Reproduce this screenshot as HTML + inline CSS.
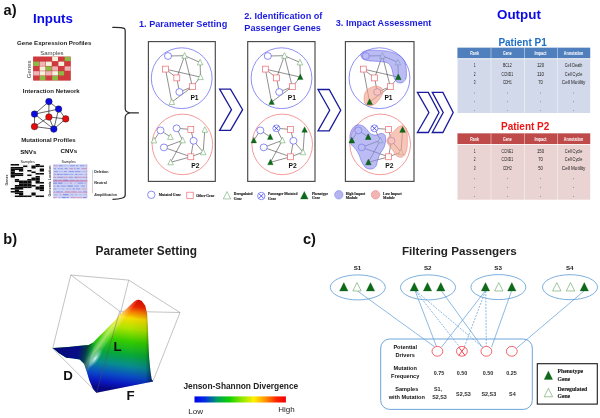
<!DOCTYPE html>
<html lang="en"><head><meta charset="utf-8"><title>Figure</title>
<style>html,body{margin:0;padding:0;background:#fff;overflow:hidden}svg{display:block}</style></head>
<body>
<svg width="600" height="418" viewBox="0 0 600 418">
<rect width="600" height="418" fill="#fff"/>
<g id="fig" style="filter:blur(0.38px)">
<text x="3.6" y="14.7" font-family='"Liberation Sans", sans-serif' font-size="14.6" font-weight="bold" fill="#111" text-anchor="start" >a)</text>
<text x="33" y="23" font-family='"Liberation Sans", sans-serif' font-size="13.3" font-weight="bold" fill="#0a0ae6" text-anchor="start" >Inputs</text>
<text x="17" y="45" font-family='"Liberation Sans", sans-serif' font-size="6.15" font-weight="bold" fill="#222" text-anchor="start" >Gene Expression Profiles</text>
<text x="40.2" y="55.3" font-family='"Liberation Sans", sans-serif' font-size="6.0" font-weight="normal" fill="#444" text-anchor="start" >Samples</text>
<text transform="translate(31.3,78.2) rotate(-90)" font-family='"Liberation Sans", sans-serif' font-size="6" fill="#444">Genes</text>
<rect x="33.2" y="56.6" width="37.5" height="23.900000000000002" fill="#c7383b"/>
<rect x="33.42" y="56.82" width="5.81" height="4.34" fill="#d03a3e"/>
<rect x="39.67" y="56.82" width="5.81" height="4.34" fill="#d03a3e"/>
<rect x="45.92" y="56.82" width="5.81" height="4.34" fill="#d03a3e"/>
<rect x="52.17" y="56.82" width="5.81" height="4.34" fill="#f3f3dd"/>
<rect x="58.42" y="56.82" width="5.81" height="4.34" fill="#d03a3e"/>
<rect x="64.67" y="56.82" width="5.81" height="4.34" fill="#8cbb45"/>
<rect x="33.42" y="61.60" width="5.81" height="4.34" fill="#8cbb45"/>
<rect x="39.67" y="61.60" width="5.81" height="4.34" fill="#efb4b6"/>
<rect x="45.92" y="61.60" width="5.81" height="4.34" fill="#f3f3dd"/>
<rect x="52.17" y="61.60" width="5.81" height="4.34" fill="#d03a3e"/>
<rect x="58.42" y="61.60" width="5.81" height="4.34" fill="#f3f3dd"/>
<rect x="64.67" y="61.60" width="5.81" height="4.34" fill="#d03a3e"/>
<rect x="33.42" y="66.38" width="5.81" height="4.34" fill="#d03a3e"/>
<rect x="39.67" y="66.38" width="5.81" height="4.34" fill="#f3f3dd"/>
<rect x="45.92" y="66.38" width="5.81" height="4.34" fill="#8cbb45"/>
<rect x="52.17" y="66.38" width="5.81" height="4.34" fill="#efb4b6"/>
<rect x="58.42" y="66.38" width="5.81" height="4.34" fill="#d03a3e"/>
<rect x="64.67" y="66.38" width="5.81" height="4.34" fill="#efb4b6"/>
<rect x="33.42" y="71.16" width="5.81" height="4.34" fill="#efb4b6"/>
<rect x="39.67" y="71.16" width="5.81" height="4.34" fill="#f3f3dd"/>
<rect x="45.92" y="71.16" width="5.81" height="4.34" fill="#efb4b6"/>
<rect x="52.17" y="71.16" width="5.81" height="4.34" fill="#f3f3dd"/>
<rect x="58.42" y="71.16" width="5.81" height="4.34" fill="#8cbb45"/>
<rect x="64.67" y="71.16" width="5.81" height="4.34" fill="#d03a3e"/>
<rect x="33.42" y="75.94" width="5.81" height="4.34" fill="#d03a3e"/>
<rect x="39.67" y="75.94" width="5.81" height="4.34" fill="#8cbb45"/>
<rect x="45.92" y="75.94" width="5.81" height="4.34" fill="#d03a3e"/>
<rect x="52.17" y="75.94" width="5.81" height="4.34" fill="#8cbb45"/>
<rect x="58.42" y="75.94" width="5.81" height="4.34" fill="#d03a3e"/>
<rect x="64.67" y="75.94" width="5.81" height="4.34" fill="#d03a3e"/>
<text x="22.8" y="93.2" font-family='"Liberation Sans", sans-serif' font-size="6.1" font-weight="bold" fill="#222" text-anchor="start" >Interaction Network</text>
<line x1="48.9" y1="101.6" x2="58.6" y2="109.1" stroke="#222" stroke-width="0.7"/>
<line x1="48.9" y1="101.6" x2="34.5" y2="114.1" stroke="#222" stroke-width="0.7"/>
<line x1="48.9" y1="101.6" x2="48.9" y2="117" stroke="#222" stroke-width="0.7"/>
<line x1="58.6" y1="109.1" x2="34.5" y2="114.1" stroke="#222" stroke-width="0.7"/>
<line x1="58.6" y1="109.1" x2="65.7" y2="118.9" stroke="#222" stroke-width="0.7"/>
<line x1="58.6" y1="109.1" x2="53.8" y2="129.1" stroke="#222" stroke-width="0.7"/>
<line x1="34.5" y1="114.1" x2="34.5" y2="126.6" stroke="#222" stroke-width="0.7"/>
<line x1="34.5" y1="114.1" x2="53.8" y2="129.1" stroke="#222" stroke-width="0.7"/>
<line x1="48.9" y1="117" x2="34.5" y2="126.6" stroke="#222" stroke-width="0.7"/>
<line x1="48.9" y1="117" x2="65.7" y2="118.9" stroke="#222" stroke-width="0.7"/>
<line x1="48.9" y1="117" x2="53.8" y2="129.1" stroke="#222" stroke-width="0.7"/>
<line x1="65.7" y1="118.9" x2="53.8" y2="129.1" stroke="#222" stroke-width="0.7"/>
<line x1="34.5" y1="126.6" x2="53.8" y2="129.1" stroke="#222" stroke-width="0.7"/>
<circle cx="48.9" cy="101.6" r="3.3" fill="#0b0be0" stroke="#222" stroke-width="0.4"/>
<circle cx="58.6" cy="109.1" r="3.3" fill="#0b0be0" stroke="#222" stroke-width="0.4"/>
<circle cx="34.5" cy="114.1" r="3.3" fill="#0b0be0" stroke="#222" stroke-width="0.4"/>
<circle cx="48.9" cy="117" r="3.3" fill="#e40c0c" stroke="#222" stroke-width="0.4"/>
<circle cx="65.7" cy="118.9" r="3.3" fill="#e40c0c" stroke="#222" stroke-width="0.4"/>
<circle cx="34.5" cy="126.6" r="3.3" fill="#e40c0c" stroke="#222" stroke-width="0.4"/>
<circle cx="53.8" cy="129.1" r="3.3" fill="#0b0be0" stroke="#222" stroke-width="0.4"/>
<text x="21.2" y="141.6" font-family='"Liberation Sans", sans-serif' font-size="6.1" font-weight="bold" fill="#222" text-anchor="start" >Mutational Profiles</text>
<text x="20.2" y="153.8" font-family='"Liberation Sans", sans-serif' font-size="6.2" font-weight="bold" fill="#111" text-anchor="start" >SNVs</text>
<text x="60.6" y="152.9" font-family='"Liberation Sans", sans-serif' font-size="6.2" font-weight="bold" fill="#111" text-anchor="start" >CNVs</text>
<text x="27.6" y="162.8" font-family='"Liberation Sans", sans-serif' font-size="3.7" font-weight="normal" fill="#1a1a1a" text-anchor="middle" >Samples</text>
<text x="68.7" y="163.0" font-family='"Liberation Sans", sans-serif' font-size="3.7" font-weight="normal" fill="#1a1a1a" text-anchor="middle" >Samples</text>
<text transform="translate(8.2,185.5) rotate(-90)" font-family='"Liberation Sans", sans-serif' font-size="3.6" font-weight="bold" fill="#333">Genes</text>
<text transform="translate(51.0,196.4) rotate(-90)" font-family='"Liberation Sans", sans-serif' font-size="3.55" font-weight="bold" fill="#333">Genomic Location</text>
<rect x="10.7" y="164.0" width="33.2" height="33.0" fill="#f6f6f6"/>
<rect x="10.70" y="164.00" width="4.20" height="1.55" fill="#0a0a0a"/>
<rect x="14.85" y="164.00" width="4.20" height="1.55" fill="#0a0a0a"/>
<rect x="35.60" y="164.00" width="4.20" height="1.55" fill="#0a0a0a"/>
<rect x="23.15" y="165.50" width="4.20" height="1.55" fill="#0a0a0a"/>
<rect x="31.45" y="165.50" width="4.20" height="1.55" fill="#0a0a0a"/>
<rect x="35.60" y="165.50" width="4.20" height="1.55" fill="#0a0a0a"/>
<rect x="39.75" y="165.50" width="4.20" height="1.55" fill="#0a0a0a"/>
<rect x="10.70" y="167.00" width="4.20" height="1.55" fill="#0a0a0a"/>
<rect x="14.85" y="167.00" width="4.20" height="1.55" fill="#0a0a0a"/>
<rect x="19.00" y="167.00" width="4.20" height="1.55" fill="#0a0a0a"/>
<rect x="31.45" y="167.00" width="4.20" height="1.55" fill="#0a0a0a"/>
<rect x="10.70" y="168.50" width="4.20" height="1.55" fill="#0a0a0a"/>
<rect x="14.85" y="168.50" width="4.20" height="1.55" fill="#0a0a0a"/>
<rect x="19.00" y="168.50" width="4.20" height="1.55" fill="#0a0a0a"/>
<rect x="39.75" y="168.50" width="4.20" height="1.55" fill="#0a0a0a"/>
<rect x="10.70" y="170.00" width="4.20" height="1.55" fill="#0a0a0a"/>
<rect x="19.00" y="170.00" width="4.20" height="1.55" fill="#0a0a0a"/>
<rect x="27.30" y="170.00" width="4.20" height="1.55" fill="#0a0a0a"/>
<rect x="39.75" y="170.00" width="4.20" height="1.55" fill="#0a0a0a"/>
<rect x="10.70" y="171.50" width="4.20" height="1.55" fill="#0a0a0a"/>
<rect x="31.45" y="171.50" width="4.20" height="1.55" fill="#0a0a0a"/>
<rect x="10.70" y="173.00" width="4.20" height="1.55" fill="#0a0a0a"/>
<rect x="14.85" y="173.00" width="4.20" height="1.55" fill="#0a0a0a"/>
<rect x="19.00" y="173.00" width="4.20" height="1.55" fill="#0a0a0a"/>
<rect x="35.60" y="173.00" width="4.20" height="1.55" fill="#0a0a0a"/>
<rect x="39.75" y="173.00" width="4.20" height="1.55" fill="#0a0a0a"/>
<rect x="10.70" y="174.50" width="4.20" height="1.55" fill="#0a0a0a"/>
<rect x="14.85" y="174.50" width="4.20" height="1.55" fill="#0a0a0a"/>
<rect x="19.00" y="174.50" width="4.20" height="1.55" fill="#0a0a0a"/>
<rect x="27.30" y="174.50" width="4.20" height="1.55" fill="#0a0a0a"/>
<rect x="10.70" y="176.00" width="4.20" height="1.55" fill="#0a0a0a"/>
<rect x="35.60" y="176.00" width="4.20" height="1.55" fill="#0a0a0a"/>
<rect x="31.45" y="177.50" width="4.20" height="1.55" fill="#0a0a0a"/>
<rect x="35.60" y="177.50" width="4.20" height="1.55" fill="#0a0a0a"/>
<rect x="14.85" y="179.00" width="4.20" height="1.55" fill="#0a0a0a"/>
<rect x="27.30" y="179.00" width="4.20" height="1.55" fill="#0a0a0a"/>
<rect x="31.45" y="179.00" width="4.20" height="1.55" fill="#0a0a0a"/>
<rect x="35.60" y="179.00" width="4.20" height="1.55" fill="#0a0a0a"/>
<rect x="14.85" y="180.50" width="4.20" height="1.55" fill="#0a0a0a"/>
<rect x="19.00" y="180.50" width="4.20" height="1.55" fill="#0a0a0a"/>
<rect x="23.15" y="180.50" width="4.20" height="1.55" fill="#0a0a0a"/>
<rect x="27.30" y="180.50" width="4.20" height="1.55" fill="#0a0a0a"/>
<rect x="35.60" y="180.50" width="4.20" height="1.55" fill="#0a0a0a"/>
<rect x="19.00" y="182.00" width="4.20" height="1.55" fill="#0a0a0a"/>
<rect x="23.15" y="182.00" width="4.20" height="1.55" fill="#0a0a0a"/>
<rect x="27.30" y="182.00" width="4.20" height="1.55" fill="#0a0a0a"/>
<rect x="35.60" y="182.00" width="4.20" height="1.55" fill="#0a0a0a"/>
<rect x="39.75" y="182.00" width="4.20" height="1.55" fill="#0a0a0a"/>
<rect x="19.00" y="183.50" width="4.20" height="1.55" fill="#0a0a0a"/>
<rect x="23.15" y="183.50" width="4.20" height="1.55" fill="#0a0a0a"/>
<rect x="27.30" y="183.50" width="4.20" height="1.55" fill="#0a0a0a"/>
<rect x="14.85" y="185.00" width="4.20" height="1.55" fill="#0a0a0a"/>
<rect x="19.00" y="185.00" width="4.20" height="1.55" fill="#0a0a0a"/>
<rect x="23.15" y="185.00" width="4.20" height="1.55" fill="#0a0a0a"/>
<rect x="27.30" y="185.00" width="4.20" height="1.55" fill="#0a0a0a"/>
<rect x="31.45" y="185.00" width="4.20" height="1.55" fill="#0a0a0a"/>
<rect x="39.75" y="185.00" width="4.20" height="1.55" fill="#0a0a0a"/>
<rect x="14.85" y="186.50" width="4.20" height="1.55" fill="#0a0a0a"/>
<rect x="19.00" y="186.50" width="4.20" height="1.55" fill="#0a0a0a"/>
<rect x="23.15" y="186.50" width="4.20" height="1.55" fill="#0a0a0a"/>
<rect x="27.30" y="186.50" width="4.20" height="1.55" fill="#0a0a0a"/>
<rect x="35.60" y="186.50" width="4.20" height="1.55" fill="#0a0a0a"/>
<rect x="39.75" y="186.50" width="4.20" height="1.55" fill="#0a0a0a"/>
<rect x="10.70" y="188.00" width="4.20" height="1.55" fill="#0a0a0a"/>
<rect x="14.85" y="188.00" width="4.20" height="1.55" fill="#0a0a0a"/>
<rect x="19.00" y="188.00" width="4.20" height="1.55" fill="#0a0a0a"/>
<rect x="35.60" y="188.00" width="4.20" height="1.55" fill="#0a0a0a"/>
<rect x="39.75" y="188.00" width="4.20" height="1.55" fill="#0a0a0a"/>
<rect x="14.85" y="189.50" width="4.20" height="1.55" fill="#0a0a0a"/>
<rect x="39.75" y="189.50" width="4.20" height="1.55" fill="#0a0a0a"/>
<rect x="10.70" y="191.00" width="4.20" height="1.55" fill="#0a0a0a"/>
<rect x="14.85" y="191.00" width="4.20" height="1.55" fill="#0a0a0a"/>
<rect x="19.00" y="191.00" width="4.20" height="1.55" fill="#0a0a0a"/>
<rect x="14.85" y="192.50" width="4.20" height="1.55" fill="#0a0a0a"/>
<rect x="19.00" y="192.50" width="4.20" height="1.55" fill="#0a0a0a"/>
<rect x="31.45" y="192.50" width="4.20" height="1.55" fill="#0a0a0a"/>
<rect x="19.00" y="194.00" width="4.20" height="1.55" fill="#0a0a0a"/>
<rect x="31.45" y="194.00" width="4.20" height="1.55" fill="#0a0a0a"/>
<rect x="14.85" y="195.50" width="4.20" height="1.55" fill="#0a0a0a"/>
<rect x="19.00" y="195.50" width="4.20" height="1.55" fill="#0a0a0a"/>
<rect x="23.15" y="195.50" width="4.20" height="1.55" fill="#0a0a0a"/>
<rect x="27.30" y="195.50" width="4.20" height="1.55" fill="#0a0a0a"/>
<rect x="35.60" y="195.50" width="4.20" height="1.55" fill="#0a0a0a"/>
<rect x="39.75" y="195.50" width="4.20" height="1.55" fill="#0a0a0a"/>
<rect x="53.0" y="164.2" width="34.4" height="34.0" fill="#cfd4f4"/>
<rect x="53.7" y="165.2" width="4.0" height="1.1" fill="#d29cc0"/>
<rect x="58.8" y="165.2" width="3.8" height="1.1" fill="#8a98ea"/>
<rect x="63.3" y="165.2" width="5.1" height="1.1" fill="#b3bcf1"/>
<rect x="69.9" y="165.2" width="5.1" height="1.1" fill="#8f9dea"/>
<rect x="76.0" y="165.2" width="2.1" height="1.1" fill="#8a98ea"/>
<rect x="79.9" y="165.2" width="4.6" height="1.1" fill="#8f9dea"/>
<rect x="85.8" y="165.2" width="1.3" height="1.1" fill="#b3bcf1"/>
<rect x="53.9" y="168.1" width="2.2" height="1.1" fill="#8f9dea"/>
<rect x="57.9" y="168.1" width="1.8" height="1.1" fill="#8f9dea"/>
<rect x="60.4" y="168.1" width="2.6" height="1.1" fill="#8f9dea"/>
<rect x="64.6" y="168.1" width="3.0" height="1.1" fill="#8a98ea"/>
<rect x="69.3" y="168.1" width="3.8" height="1.1" fill="#c694c8"/>
<rect x="74.0" y="168.1" width="1.5" height="1.1" fill="#8f9dea"/>
<rect x="76.7" y="168.1" width="2.8" height="1.1" fill="#8a98ea"/>
<rect x="81.4" y="168.1" width="5.3" height="1.1" fill="#c694c8"/>
<rect x="54.1" y="171.0" width="3.8" height="1.1" fill="#8f9dea"/>
<rect x="58.5" y="171.0" width="4.9" height="1.1" fill="#b3bcf1"/>
<rect x="64.0" y="171.0" width="2.8" height="1.1" fill="#8f9dea"/>
<rect x="68.7" y="171.0" width="5.3" height="1.1" fill="#8f9dea"/>
<rect x="74.8" y="171.0" width="5.7" height="1.1" fill="#8f9dea"/>
<rect x="81.6" y="171.0" width="5.5" height="1.1" fill="#b3bcf1"/>
<rect x="53.8" y="173.9" width="2.4" height="1.1" fill="#c694c8"/>
<rect x="57.1" y="173.9" width="1.9" height="1.1" fill="#7888e4"/>
<rect x="59.4" y="173.9" width="3.3" height="1.1" fill="#8f9dea"/>
<rect x="63.4" y="173.9" width="4.7" height="1.1" fill="#8f9dea"/>
<rect x="68.5" y="173.9" width="5.1" height="1.1" fill="#a3aeee"/>
<rect x="75.1" y="173.9" width="2.3" height="1.1" fill="#8a98ea"/>
<rect x="78.2" y="173.9" width="4.8" height="1.1" fill="#a3aeee"/>
<rect x="84.0" y="173.9" width="3.1" height="1.1" fill="#b3bcf1"/>
<rect x="53.3" y="176.8" width="2.7" height="1.1" fill="#d29cc0"/>
<rect x="57.4" y="176.8" width="6.0" height="1.1" fill="#8f9dea"/>
<rect x="64.1" y="176.8" width="3.3" height="1.1" fill="#d29cc0"/>
<rect x="68.7" y="176.8" width="4.1" height="1.1" fill="#8f9dea"/>
<rect x="74.8" y="176.8" width="2.5" height="1.1" fill="#7888e4"/>
<rect x="77.7" y="176.8" width="4.2" height="1.1" fill="#d29cc0"/>
<rect x="82.8" y="176.8" width="1.8" height="1.1" fill="#8f9dea"/>
<rect x="85.4" y="176.8" width="1.7" height="1.1" fill="#8f9dea"/>
<rect x="53.6" y="179.7" width="3.5" height="1.1" fill="#8a98ea"/>
<rect x="58.3" y="179.7" width="4.1" height="1.1" fill="#d29cc0"/>
<rect x="63.4" y="179.7" width="4.3" height="1.1" fill="#7888e4"/>
<rect x="69.6" y="179.7" width="5.2" height="1.1" fill="#a3aeee"/>
<rect x="76.3" y="179.7" width="2.2" height="1.1" fill="#c694c8"/>
<rect x="80.4" y="179.7" width="2.4" height="1.1" fill="#b3bcf1"/>
<rect x="84.6" y="179.7" width="2.5" height="1.1" fill="#b3bcf1"/>
<rect x="53.2" y="182.6" width="3.8" height="1.1" fill="#7888e4"/>
<rect x="57.8" y="182.6" width="4.7" height="1.1" fill="#7888e4"/>
<rect x="63.5" y="182.6" width="5.6" height="1.1" fill="#b3bcf1"/>
<rect x="69.9" y="182.6" width="2.3" height="1.1" fill="#c694c8"/>
<rect x="74.2" y="182.6" width="2.1" height="1.1" fill="#b3bcf1"/>
<rect x="77.6" y="182.6" width="5.3" height="1.1" fill="#8a98ea"/>
<rect x="83.4" y="182.6" width="2.5" height="1.1" fill="#a3aeee"/>
<rect x="53.1" y="185.5" width="3.4" height="1.1" fill="#a3aeee"/>
<rect x="57.0" y="185.5" width="2.3" height="1.1" fill="#7888e4"/>
<rect x="60.5" y="185.5" width="5.9" height="1.1" fill="#8f9dea"/>
<rect x="67.4" y="185.5" width="5.5" height="1.1" fill="#7888e4"/>
<rect x="74.3" y="185.5" width="4.6" height="1.1" fill="#8a98ea"/>
<rect x="80.8" y="185.5" width="4.2" height="1.1" fill="#8f9dea"/>
<rect x="53.5" y="188.4" width="2.9" height="1.1" fill="#8f9dea"/>
<rect x="56.9" y="188.4" width="4.4" height="1.1" fill="#b3bcf1"/>
<rect x="61.7" y="188.4" width="2.9" height="1.1" fill="#a3aeee"/>
<rect x="66.6" y="188.4" width="1.8" height="1.1" fill="#8a98ea"/>
<rect x="69.5" y="188.4" width="1.7" height="1.1" fill="#c694c8"/>
<rect x="72.7" y="188.4" width="2.1" height="1.1" fill="#7888e4"/>
<rect x="75.8" y="188.4" width="4.6" height="1.1" fill="#8f9dea"/>
<rect x="82.2" y="188.4" width="3.4" height="1.1" fill="#d29cc0"/>
<rect x="53.7" y="191.3" width="1.6" height="1.1" fill="#c694c8"/>
<rect x="56.3" y="191.3" width="4.1" height="1.1" fill="#8a98ea"/>
<rect x="61.0" y="191.3" width="1.9" height="1.1" fill="#8f9dea"/>
<rect x="64.9" y="191.3" width="5.5" height="1.1" fill="#c694c8"/>
<rect x="71.2" y="191.3" width="5.7" height="1.1" fill="#c694c8"/>
<rect x="78.3" y="191.3" width="3.5" height="1.1" fill="#d29cc0"/>
<rect x="83.0" y="191.3" width="3.8" height="1.1" fill="#8a98ea"/>
<rect x="53.9" y="194.2" width="3.7" height="1.1" fill="#a3aeee"/>
<rect x="59.5" y="194.2" width="2.0" height="1.1" fill="#d29cc0"/>
<rect x="62.9" y="194.2" width="5.6" height="1.1" fill="#7888e4"/>
<rect x="70.4" y="194.2" width="3.2" height="1.1" fill="#a3aeee"/>
<rect x="75.0" y="194.2" width="2.4" height="1.1" fill="#a3aeee"/>
<rect x="79.0" y="194.2" width="3.0" height="1.1" fill="#b3bcf1"/>
<rect x="83.3" y="194.2" width="2.6" height="1.1" fill="#b3bcf1"/>
<rect x="53.3" y="197.1" width="3.4" height="1.1" fill="#d29cc0"/>
<rect x="58.3" y="197.1" width="2.4" height="1.1" fill="#a3aeee"/>
<rect x="61.8" y="197.1" width="4.1" height="1.1" fill="#7888e4"/>
<rect x="66.6" y="197.1" width="2.1" height="1.1" fill="#7888e4"/>
<rect x="70.5" y="197.1" width="5.3" height="1.1" fill="#c694c8"/>
<rect x="76.3" y="197.1" width="5.9" height="1.1" fill="#d29cc0"/>
<rect x="82.9" y="197.1" width="3.5" height="1.1" fill="#7888e4"/>
<rect x="53.0" y="180.3" width="34.4" height="1.3" fill="#c4608e" opacity="0.7"/>
<rect x="53.0" y="176.9" width="34.4" height="0.8" fill="#d58cb0" opacity="0.4"/>
<rect x="53.0" y="192.0" width="34.4" height="0.9" fill="#d58cb0" opacity="0.45"/>
<rect x="86.2" y="164.2" width="0.9" height="34.0" fill="#d79ab8" opacity="0.5"/>
<defs><linearGradient id="cnvbar" x1="0" y1="0" x2="0" y2="1"><stop offset="0" stop-color="#7aa0d8"/><stop offset="0.5" stop-color="#b0a0c0"/><stop offset="1" stop-color="#d07080"/></linearGradient></defs>
<rect x="92.1" y="170.2" width="0.6" height="22.8" fill="url(#cnvbar)" opacity="0.8"/>
<text x="94.2" y="173.3" font-family='"Liberation Sans", sans-serif' font-size="3.65" font-weight="bold" fill="#222" text-anchor="start" >Deletion</text>
<text x="94.2" y="183.9" font-family='"Liberation Sans", sans-serif' font-size="3.65" font-weight="bold" fill="#222" text-anchor="start" >Neutral</text>
<text x="94.2" y="196.0" font-family='"Liberation Sans", sans-serif' font-size="3.6" font-weight="bold" fill="#222" text-anchor="start" font-style="italic">Amplification</text>
<path d="M112.3 27.3 C118 27.2 123 27.6 124.6 28.6 C125.2 29.2 125.2 30 125.2 31.5 L125.2 108.5 C125.2 111 126.5 112.3 130 112.8 L138.4 112.9 L130 113 C126.5 113.5 125.2 114.8 125.2 117.5 L125.2 195 C125.2 196.6 124.6 197.4 122.5 198 C119.5 198.9 116 199.3 112.5 199.4" fill="none" stroke="#2a2a2a" stroke-width="1.25" stroke-linejoin="round"/>
<rect x="148.4" y="41.6" width="66.9" height="139.8" fill="#fff" stroke="#484848" stroke-width="1.15"/>
<rect x="247.7" y="41.6" width="67.3" height="139.8" fill="#fff" stroke="#484848" stroke-width="1.15"/>
<rect x="345.4" y="41.6" width="68.6" height="139.8" fill="#fff" stroke="#484848" stroke-width="1.15"/>
<text x="139" y="27.4" font-family='"Liberation Sans", sans-serif' font-size="9.15" font-weight="bold" fill="#1c1ce0" text-anchor="start" >1. Parameter Setting</text>
<text x="244.3" y="19.4" font-family='"Liberation Sans", sans-serif' font-size="9.15" font-weight="bold" fill="#1c1ce0" text-anchor="start" >2. Identification of</text>
<text x="244.3" y="30.8" font-family='"Liberation Sans", sans-serif' font-size="9.15" font-weight="bold" fill="#1c1ce0" text-anchor="start" >Passenger Genes</text>
<text x="335.8" y="26.2" font-family='"Liberation Sans", sans-serif' font-size="9.15" font-weight="bold" fill="#1c1ce0" text-anchor="start" >3. Impact Assessment</text>
<circle cx="181.7" cy="78.2" r="30.4" fill="none" stroke="#6a6af2" stroke-width="0.75"/>
<circle cx="182.4" cy="144.4" r="30.3" fill="none" stroke="#f07a7a" stroke-width="0.75"/>
<circle cx="281.5" cy="78.2" r="30.4" fill="none" stroke="#6a6af2" stroke-width="0.75"/>
<circle cx="282.2" cy="144.4" r="30.3" fill="none" stroke="#f07a7a" stroke-width="0.75"/>
<circle cx="379.5" cy="78.2" r="30.4" fill="none" stroke="#6a6af2" stroke-width="0.75"/>
<circle cx="380.2" cy="144.4" r="30.3" fill="none" stroke="#f07a7a" stroke-width="0.75"/>
<line x1="168.00" y1="56.00" x2="184.60" y2="55.70" stroke="#333" stroke-width="0.55"/>
<line x1="184.60" y1="55.70" x2="200.10" y2="62.40" stroke="#333" stroke-width="0.55"/>
<line x1="200.10" y1="62.40" x2="200.50" y2="77.10" stroke="#333" stroke-width="0.55"/>
<line x1="184.60" y1="55.70" x2="176.80" y2="77.90" stroke="#333" stroke-width="0.55"/>
<line x1="184.60" y1="55.70" x2="192.50" y2="86.70" stroke="#333" stroke-width="0.55"/>
<line x1="165.50" y1="69.10" x2="200.50" y2="77.10" stroke="#333" stroke-width="0.55"/>
<line x1="165.50" y1="69.10" x2="176.80" y2="77.90" stroke="#333" stroke-width="0.55"/>
<line x1="165.50" y1="69.10" x2="171.80" y2="102.00" stroke="#333" stroke-width="0.55"/>
<line x1="176.80" y1="77.90" x2="179.40" y2="92.00" stroke="#333" stroke-width="0.55"/>
<line x1="179.40" y1="92.00" x2="192.50" y2="86.70" stroke="#333" stroke-width="0.55"/>
<line x1="192.50" y1="86.70" x2="200.50" y2="77.10" stroke="#333" stroke-width="0.55"/>
<line x1="192.50" y1="86.70" x2="171.80" y2="102.00" stroke="#333" stroke-width="0.55"/>
<ellipse cx="168.00" cy="56.00" rx="3.55" ry="3.4" fill="#fff" stroke="#5a5af0" stroke-width="0.7"/>
<polygon points="184.60,52.62 187.40,58.22 181.80,58.22" fill="#fff" stroke="#5f9f5f" stroke-width="0.55"/>
<polygon points="200.10,59.32 202.90,64.92 197.30,64.92" fill="#fff" stroke="#5f9f5f" stroke-width="0.55"/>
<polygon points="200.50,74.02 203.30,79.62 197.70,79.62" fill="#fff" stroke="#5f9f5f" stroke-width="0.55"/>
<rect x="162.55" y="66.15" width="5.9" height="5.9" fill="#fff" stroke="#ee6a70" stroke-width="0.7"/>
<rect x="173.85" y="74.95" width="5.9" height="5.9" fill="#fff" stroke="#ee6a70" stroke-width="0.7"/>
<rect x="189.55" y="83.75" width="5.9" height="5.9" fill="#fff" stroke="#ee6a70" stroke-width="0.7"/>
<ellipse cx="179.40" cy="92.00" rx="3.55" ry="3.4" fill="#fff" stroke="#5a5af0" stroke-width="0.7"/>
<polygon points="171.80,98.92 174.60,104.52 169.00,104.52" fill="#fff" stroke="#5f9f5f" stroke-width="0.55"/>
<line x1="160.50" y1="130.40" x2="154.00" y2="140.40" stroke="#333" stroke-width="0.55"/>
<line x1="160.50" y1="130.40" x2="170.40" y2="136.90" stroke="#333" stroke-width="0.55"/>
<line x1="176.60" y1="128.30" x2="190.80" y2="129.40" stroke="#333" stroke-width="0.55"/>
<line x1="176.60" y1="128.30" x2="182.60" y2="140.30" stroke="#333" stroke-width="0.55"/>
<line x1="190.80" y1="129.40" x2="193.60" y2="140.80" stroke="#333" stroke-width="0.55"/>
<line x1="204.80" y1="129.80" x2="203.20" y2="152.20" stroke="#333" stroke-width="0.55"/>
<line x1="182.60" y1="140.30" x2="163.90" y2="147.40" stroke="#333" stroke-width="0.55"/>
<line x1="182.60" y1="140.30" x2="170.60" y2="162.30" stroke="#333" stroke-width="0.55"/>
<line x1="163.90" y1="147.40" x2="190.80" y2="156.80" stroke="#333" stroke-width="0.55"/>
<line x1="193.60" y1="140.80" x2="190.80" y2="156.80" stroke="#333" stroke-width="0.55"/>
<line x1="193.60" y1="140.80" x2="203.20" y2="152.20" stroke="#333" stroke-width="0.55"/>
<line x1="190.80" y1="156.80" x2="203.20" y2="152.20" stroke="#333" stroke-width="0.55"/>
<line x1="190.80" y1="156.80" x2="170.60" y2="162.30" stroke="#333" stroke-width="0.55"/>
<ellipse cx="160.50" cy="130.40" rx="3.55" ry="3.4" fill="#fff" stroke="#5a5af0" stroke-width="0.7"/>
<ellipse cx="176.60" cy="128.30" rx="3.55" ry="3.4" fill="#fff" stroke="#5a5af0" stroke-width="0.7"/>
<rect x="187.85" y="126.45" width="5.9" height="5.9" fill="#fff" stroke="#ee6a70" stroke-width="0.7"/>
<polygon points="204.80,126.72 207.60,132.32 202.00,132.32" fill="#fff" stroke="#5f9f5f" stroke-width="0.55"/>
<polygon points="154.00,137.32 156.80,142.92 151.20,142.92" fill="#fff" stroke="#5f9f5f" stroke-width="0.55"/>
<polygon points="170.40,133.82 173.20,139.42 167.60,139.42" fill="#fff" stroke="#5f9f5f" stroke-width="0.55"/>
<polygon points="182.60,137.22 185.40,142.82 179.80,142.82" fill="#fff" stroke="#5f9f5f" stroke-width="0.55"/>
<ellipse cx="193.60" cy="140.80" rx="3.55" ry="3.4" fill="#fff" stroke="#5a5af0" stroke-width="0.7"/>
<ellipse cx="163.90" cy="147.40" rx="3.55" ry="3.4" fill="#fff" stroke="#5a5af0" stroke-width="0.7"/>
<rect x="187.85" y="153.85" width="5.9" height="5.9" fill="#fff" stroke="#ee6a70" stroke-width="0.7"/>
<polygon points="203.20,149.12 206.00,154.72 200.40,154.72" fill="#fff" stroke="#5f9f5f" stroke-width="0.55"/>
<polygon points="170.60,159.22 173.40,164.82 167.80,164.82" fill="#fff" stroke="#5f9f5f" stroke-width="0.55"/>
<line x1="267.80" y1="56.00" x2="284.40" y2="55.70" stroke="#333" stroke-width="0.55"/>
<line x1="284.40" y1="55.70" x2="299.90" y2="62.40" stroke="#333" stroke-width="0.55"/>
<line x1="299.90" y1="62.40" x2="300.30" y2="77.10" stroke="#333" stroke-width="0.55"/>
<line x1="284.40" y1="55.70" x2="276.60" y2="77.90" stroke="#333" stroke-width="0.55"/>
<line x1="284.40" y1="55.70" x2="292.30" y2="86.70" stroke="#333" stroke-width="0.55"/>
<line x1="265.30" y1="69.10" x2="300.30" y2="77.10" stroke="#333" stroke-width="0.55"/>
<line x1="265.30" y1="69.10" x2="276.60" y2="77.90" stroke="#333" stroke-width="0.55"/>
<line x1="265.30" y1="69.10" x2="271.60" y2="102.00" stroke="#333" stroke-width="0.55"/>
<line x1="276.60" y1="77.90" x2="279.20" y2="92.00" stroke="#333" stroke-width="0.55"/>
<line x1="279.20" y1="92.00" x2="292.30" y2="86.70" stroke="#333" stroke-width="0.55"/>
<line x1="292.30" y1="86.70" x2="300.30" y2="77.10" stroke="#333" stroke-width="0.55"/>
<line x1="292.30" y1="86.70" x2="271.60" y2="102.00" stroke="#333" stroke-width="0.55"/>
<ellipse cx="267.80" cy="56.00" rx="3.55" ry="3.4" fill="#fff" stroke="#5a5af0" stroke-width="0.7"/>
<polygon points="284.40,52.62 287.20,58.22 281.60,58.22" fill="#fff" stroke="#5f9f5f" stroke-width="0.55"/>
<polygon points="299.90,59.32 302.70,64.92 297.10,64.92" fill="#fff" stroke="#5f9f5f" stroke-width="0.55"/>
<polygon points="300.30,74.02 303.10,79.62 297.50,79.62" fill="#0c6a18" stroke="#0c5a14" stroke-width="0.3"/>
<rect x="262.35" y="66.15" width="5.9" height="5.9" fill="#fff" stroke="#ee6a70" stroke-width="0.7"/>
<rect x="273.65" y="74.95" width="5.9" height="5.9" fill="#fff" stroke="#ee6a70" stroke-width="0.7"/>
<rect x="289.35" y="83.75" width="5.9" height="5.9" fill="#fff" stroke="#ee6a70" stroke-width="0.7"/>
<ellipse cx="279.20" cy="92.00" rx="3.55" ry="3.4" fill="#fff" stroke="#5a5af0" stroke-width="0.7"/>
<polygon points="271.60,98.92 274.40,104.52 268.80,104.52" fill="#0c6a18" stroke="#0c5a14" stroke-width="0.3"/>
<line x1="260.30" y1="130.40" x2="253.80" y2="140.40" stroke="#333" stroke-width="0.55"/>
<line x1="260.30" y1="130.40" x2="270.20" y2="136.90" stroke="#333" stroke-width="0.55"/>
<line x1="276.40" y1="128.30" x2="290.60" y2="129.40" stroke="#333" stroke-width="0.55"/>
<line x1="276.40" y1="128.30" x2="282.40" y2="140.30" stroke="#333" stroke-width="0.55"/>
<line x1="290.60" y1="129.40" x2="293.40" y2="140.80" stroke="#333" stroke-width="0.55"/>
<line x1="304.60" y1="129.80" x2="303.00" y2="152.20" stroke="#333" stroke-width="0.55"/>
<line x1="282.40" y1="140.30" x2="263.70" y2="147.40" stroke="#333" stroke-width="0.55"/>
<line x1="282.40" y1="140.30" x2="270.40" y2="162.30" stroke="#333" stroke-width="0.55"/>
<line x1="263.70" y1="147.40" x2="290.60" y2="156.80" stroke="#333" stroke-width="0.55"/>
<line x1="293.40" y1="140.80" x2="290.60" y2="156.80" stroke="#333" stroke-width="0.55"/>
<line x1="293.40" y1="140.80" x2="303.00" y2="152.20" stroke="#333" stroke-width="0.55"/>
<line x1="290.60" y1="156.80" x2="303.00" y2="152.20" stroke="#333" stroke-width="0.55"/>
<line x1="290.60" y1="156.80" x2="270.40" y2="162.30" stroke="#333" stroke-width="0.55"/>
<ellipse cx="260.30" cy="130.40" rx="3.55" ry="3.4" fill="#fff" stroke="#5a5af0" stroke-width="0.7"/>
<ellipse cx="276.40" cy="128.30" rx="3.55" ry="3.4" fill="#fff" stroke="#5a5af0" stroke-width="0.7"/>
<path d="M274.20 126.10 L278.60 130.50 M278.60 126.10 L274.20 130.50" stroke="#3a3ae8" stroke-width="0.85" fill="none"/>
<rect x="287.65" y="126.45" width="5.9" height="5.9" fill="#fff" stroke="#ee6a70" stroke-width="0.7"/>
<polygon points="304.60,126.72 307.40,132.32 301.80,132.32" fill="#0c6a18" stroke="#0c5a14" stroke-width="0.3"/>
<polygon points="253.80,137.32 256.60,142.92 251.00,142.92" fill="#0c6a18" stroke="#0c5a14" stroke-width="0.3"/>
<polygon points="270.20,133.82 273.00,139.42 267.40,139.42" fill="#0c6a18" stroke="#0c5a14" stroke-width="0.3"/>
<polygon points="282.40,137.22 285.20,142.82 279.60,142.82" fill="#fff" stroke="#5f9f5f" stroke-width="0.55"/>
<ellipse cx="293.40" cy="140.80" rx="3.55" ry="3.4" fill="#fff" stroke="#5a5af0" stroke-width="0.7"/>
<ellipse cx="263.70" cy="147.40" rx="3.55" ry="3.4" fill="#fff" stroke="#5a5af0" stroke-width="0.7"/>
<rect x="287.65" y="153.85" width="5.9" height="5.9" fill="#fff" stroke="#ee6a70" stroke-width="0.7"/>
<polygon points="303.00,149.12 305.80,154.72 300.20,154.72" fill="#fff" stroke="#5f9f5f" stroke-width="0.55"/>
<polygon points="270.40,159.22 273.20,164.82 267.60,164.82" fill="#0c6a18" stroke="#0c5a14" stroke-width="0.3"/>
<line x1="365.80" y1="56.00" x2="382.40" y2="55.70" stroke="#333" stroke-width="0.55"/>
<line x1="382.40" y1="55.70" x2="397.90" y2="62.40" stroke="#333" stroke-width="0.55"/>
<line x1="397.90" y1="62.40" x2="398.30" y2="77.10" stroke="#333" stroke-width="0.55"/>
<line x1="382.40" y1="55.70" x2="374.60" y2="77.90" stroke="#333" stroke-width="0.55"/>
<line x1="382.40" y1="55.70" x2="390.30" y2="86.70" stroke="#333" stroke-width="0.55"/>
<line x1="363.30" y1="69.10" x2="398.30" y2="77.10" stroke="#333" stroke-width="0.55"/>
<line x1="363.30" y1="69.10" x2="374.60" y2="77.90" stroke="#333" stroke-width="0.55"/>
<line x1="363.30" y1="69.10" x2="369.60" y2="102.00" stroke="#333" stroke-width="0.55"/>
<line x1="374.60" y1="77.90" x2="377.20" y2="92.00" stroke="#333" stroke-width="0.55"/>
<line x1="377.20" y1="92.00" x2="390.30" y2="86.70" stroke="#333" stroke-width="0.55"/>
<line x1="390.30" y1="86.70" x2="398.30" y2="77.10" stroke="#333" stroke-width="0.55"/>
<line x1="390.30" y1="86.70" x2="369.60" y2="102.00" stroke="#333" stroke-width="0.55"/>
<ellipse cx="365.80" cy="56.00" rx="3.55" ry="3.4" fill="#fff" stroke="#5a5af0" stroke-width="0.7"/>
<polygon points="382.40,52.62 385.20,58.22 379.60,58.22" fill="#fff" stroke="#5f9f5f" stroke-width="0.55"/>
<polygon points="397.90,59.32 400.70,64.92 395.10,64.92" fill="#fff" stroke="#5f9f5f" stroke-width="0.55"/>
<polygon points="398.30,74.02 401.10,79.62 395.50,79.62" fill="#0c6a18" stroke="#0c5a14" stroke-width="0.3"/>
<rect x="360.35" y="66.15" width="5.9" height="5.9" fill="#fff" stroke="#ee6a70" stroke-width="0.7"/>
<rect x="371.65" y="74.95" width="5.9" height="5.9" fill="#fff" stroke="#ee6a70" stroke-width="0.7"/>
<rect x="387.35" y="83.75" width="5.9" height="5.9" fill="#fff" stroke="#ee6a70" stroke-width="0.7"/>
<ellipse cx="377.20" cy="92.00" rx="3.55" ry="3.4" fill="#fff" stroke="#5a5af0" stroke-width="0.7"/>
<polygon points="369.60,98.92 372.40,104.52 366.80,104.52" fill="#0c6a18" stroke="#0c5a14" stroke-width="0.3"/>
<line x1="358.30" y1="130.40" x2="351.80" y2="140.40" stroke="#333" stroke-width="0.55"/>
<line x1="358.30" y1="130.40" x2="368.20" y2="136.90" stroke="#333" stroke-width="0.55"/>
<line x1="374.40" y1="128.30" x2="388.60" y2="129.40" stroke="#333" stroke-width="0.55"/>
<line x1="374.40" y1="128.30" x2="380.40" y2="140.30" stroke="#333" stroke-width="0.55"/>
<line x1="388.60" y1="129.40" x2="391.40" y2="140.80" stroke="#333" stroke-width="0.55"/>
<line x1="402.60" y1="129.80" x2="401.00" y2="152.20" stroke="#333" stroke-width="0.55"/>
<line x1="380.40" y1="140.30" x2="361.70" y2="147.40" stroke="#333" stroke-width="0.55"/>
<line x1="380.40" y1="140.30" x2="368.40" y2="162.30" stroke="#333" stroke-width="0.55"/>
<line x1="361.70" y1="147.40" x2="388.60" y2="156.80" stroke="#333" stroke-width="0.55"/>
<line x1="391.40" y1="140.80" x2="388.60" y2="156.80" stroke="#333" stroke-width="0.55"/>
<line x1="391.40" y1="140.80" x2="401.00" y2="152.20" stroke="#333" stroke-width="0.55"/>
<line x1="388.60" y1="156.80" x2="401.00" y2="152.20" stroke="#333" stroke-width="0.55"/>
<line x1="388.60" y1="156.80" x2="368.40" y2="162.30" stroke="#333" stroke-width="0.55"/>
<ellipse cx="358.30" cy="130.40" rx="3.55" ry="3.4" fill="#fff" stroke="#5a5af0" stroke-width="0.7"/>
<ellipse cx="374.40" cy="128.30" rx="3.55" ry="3.4" fill="#fff" stroke="#5a5af0" stroke-width="0.7"/>
<path d="M372.20 126.10 L376.60 130.50 M376.60 126.10 L372.20 130.50" stroke="#3a3ae8" stroke-width="0.85" fill="none"/>
<rect x="385.65" y="126.45" width="5.9" height="5.9" fill="#fff" stroke="#ee6a70" stroke-width="0.7"/>
<polygon points="402.60,126.72 405.40,132.32 399.80,132.32" fill="#0c6a18" stroke="#0c5a14" stroke-width="0.3"/>
<polygon points="351.80,137.32 354.60,142.92 349.00,142.92" fill="#0c6a18" stroke="#0c5a14" stroke-width="0.3"/>
<polygon points="368.20,133.82 371.00,139.42 365.40,139.42" fill="#0c6a18" stroke="#0c5a14" stroke-width="0.3"/>
<polygon points="380.40,137.22 383.20,142.82 377.60,142.82" fill="#fff" stroke="#5f9f5f" stroke-width="0.55"/>
<ellipse cx="391.40" cy="140.80" rx="3.55" ry="3.4" fill="#fff" stroke="#5a5af0" stroke-width="0.7"/>
<ellipse cx="361.70" cy="147.40" rx="3.55" ry="3.4" fill="#fff" stroke="#5a5af0" stroke-width="0.7"/>
<rect x="385.65" y="153.85" width="5.9" height="5.9" fill="#fff" stroke="#ee6a70" stroke-width="0.7"/>
<polygon points="401.00,149.12 403.80,154.72 398.20,154.72" fill="#fff" stroke="#5f9f5f" stroke-width="0.55"/>
<polygon points="368.40,159.22 371.20,164.82 365.60,164.82" fill="#0c6a18" stroke="#0c5a14" stroke-width="0.3"/>
<path d="M360.91 55.41 C360.77 54.21 361.33 52.90 362.58 52.06 C363.84 51.22 365.79 50.66 368.45 50.38 C371.10 50.10 375.15 50.22 378.50 50.38 C381.84 50.55 385.47 50.75 388.54 51.39 C391.61 52.03 394.55 53.06 396.92 54.24 C399.29 55.41 401.33 56.61 402.78 58.42 C404.23 60.24 405.01 62.61 405.63 65.12 C406.24 67.63 406.46 71.12 406.46 73.50 C406.46 75.87 406.38 77.82 405.63 79.36 C404.87 80.89 403.34 82.23 401.94 82.71 C400.55 83.18 398.51 82.90 397.25 82.20 C396.00 81.51 395.16 80.11 394.41 78.52 C393.65 76.93 393.29 74.61 392.73 72.66 C392.17 70.70 392.03 68.47 391.06 66.80 C390.08 65.12 388.96 63.50 386.87 62.61 C384.78 61.72 381.29 61.72 378.50 61.44 C375.70 61.16 372.63 61.30 370.12 60.93 C367.61 60.57 364.96 60.18 363.42 59.26 C361.89 58.34 361.05 56.61 360.91 55.41 Z" fill="#9090ee" fill-opacity="0.6" stroke="#6a6ae4" stroke-width="0.6"/>
<path d="M364.26 96.10 C364.59 94.01 365.38 91.78 366.77 90.24 C368.17 88.71 370.68 87.51 372.63 86.89 C374.59 86.28 376.82 86.14 378.50 86.56 C380.17 86.98 382.07 88.09 382.68 89.41 C383.30 90.72 382.88 92.62 382.18 94.43 C381.48 96.24 379.81 98.62 378.50 100.29 C377.18 101.97 375.98 103.59 374.31 104.48 C372.63 105.37 370.04 105.93 368.45 105.65 C366.86 105.37 365.46 104.39 364.76 102.80 C364.06 101.21 363.92 98.20 364.26 96.10 Z" fill="#f4a28e" fill-opacity="0.62" stroke="#ee8878" stroke-width="0.6"/>
<path d="M350.02 135.12 C350.30 132.61 351.42 130.10 352.54 128.42 C353.65 126.75 355.19 125.58 356.72 125.07 C358.26 124.57 360.21 124.85 361.75 125.41 C363.28 125.97 364.54 127.08 365.93 128.42 C367.33 129.76 368.45 132.33 370.12 133.45 C371.80 134.56 374.17 135.12 375.98 135.12 C377.80 135.12 379.53 133.45 381.01 133.45 C382.49 133.45 384.11 133.87 384.86 135.12 C385.61 136.38 385.70 138.89 385.53 140.98 C385.36 143.08 384.75 145.59 383.85 147.68 C382.96 149.78 381.20 151.45 380.17 153.54 C379.14 155.64 378.36 158.15 377.66 160.24 C376.96 162.34 376.96 164.65 375.98 166.10 C375.01 167.56 373.47 168.67 371.80 168.95 C370.12 169.23 367.61 168.95 365.93 167.78 C364.26 166.61 362.86 164.01 361.75 161.92 C360.63 159.82 360.21 157.31 359.24 155.22 C358.26 153.13 357.28 151.31 355.89 149.36 C354.49 147.40 351.84 145.87 350.86 143.50 C349.88 141.12 349.75 137.63 350.02 135.12 Z" fill="#9090ee" fill-opacity="0.6" stroke="#6a6ae4" stroke-width="0.6"/>
<path d="M388.88 136.80 C390.00 135.26 391.95 133.45 393.57 131.77 C395.19 130.10 396.92 127.72 398.59 126.75 C400.27 125.77 402.28 125.35 403.62 125.91 C404.96 126.47 406.02 128.00 406.63 130.10 C407.25 132.19 407.25 135.40 407.30 138.47 C407.36 141.54 407.44 145.73 406.97 148.52 C406.49 151.31 405.57 153.77 404.45 155.22 C403.34 156.67 401.66 157.23 400.27 157.23 C398.87 157.23 397.34 156.39 396.08 155.22 C394.82 154.05 393.93 151.87 392.73 150.19 C391.53 148.52 389.86 146.71 388.88 145.17 C387.90 143.63 386.87 142.38 386.87 140.98 C386.87 139.59 387.76 138.33 388.88 136.80 Z" fill="#f4a28e" fill-opacity="0.62" stroke="#ee8878" stroke-width="0.6"/>
<polygon points="398.30,74.02 401.10,79.62 395.50,79.62" fill="#0c6a18" stroke="#0c5a14" stroke-width="0.3"/>
<polygon points="369.60,98.92 372.40,104.52 366.80,104.52" fill="#0c6a18" stroke="#0c5a14" stroke-width="0.3"/>
<polygon points="351.80,137.32 354.60,142.92 349.00,142.92" fill="#0c6a18" stroke="#0c5a14" stroke-width="0.3"/>
<polygon points="368.20,133.82 371.00,139.42 365.40,139.42" fill="#0c6a18" stroke="#0c5a14" stroke-width="0.3"/>
<polygon points="402.60,126.72 405.40,132.32 399.80,132.32" fill="#0c6a18" stroke="#0c5a14" stroke-width="0.3"/>
<polygon points="368.40,159.22 371.20,164.82 365.60,164.82" fill="#0c6a18" stroke="#0c5a14" stroke-width="0.3"/>
<text x="190.4" y="100.0" font-family='"Liberation Sans", sans-serif' font-size="6.7" font-weight="bold" fill="#111" text-anchor="start" >P1</text>
<text x="191.2" y="167.9" font-family='"Liberation Sans", sans-serif' font-size="6.7" font-weight="bold" fill="#111" text-anchor="start" >P2</text>
<text x="287.8" y="100.0" font-family='"Liberation Sans", sans-serif' font-size="6.7" font-weight="bold" fill="#111" text-anchor="start" >P1</text>
<text x="288.6" y="167.9" font-family='"Liberation Sans", sans-serif' font-size="6.7" font-weight="bold" fill="#111" text-anchor="start" >P2</text>
<text x="384.4" y="100.0" font-family='"Liberation Sans", sans-serif' font-size="6.7" font-weight="bold" fill="#111" text-anchor="start" >P1</text>
<text x="385.2" y="167.9" font-family='"Liberation Sans", sans-serif' font-size="6.7" font-weight="bold" fill="#111" text-anchor="start" >P2</text>
<polygon points="219.6,89.2 230.5,89.2 242.6,109.7 230.5,130.3 219.6,130.3 231.5,109.7" stroke="#1a1a9e" stroke-width="1.3" fill="#fff" stroke-linejoin="miter"/>
<polygon points="318,89.5 329.2,89.5 340.7,110.2 329.2,130.9 318,130.9 329.7,110.2" stroke="#1a1a9e" stroke-width="1.3" fill="#fff" stroke-linejoin="miter"/>
<polygon points="417.4,92.4 428.3,92.4 439,112.5 428.3,132.5 417.4,132.5 428.9,112.5" stroke="#1a1a9e" stroke-width="1.3" fill="#fff" stroke-linejoin="miter"/>
<polygon points="432.3,92.4 442.9,92.4 453.2,112.5 442.9,132.5 432.3,132.5 443.2,112.5" stroke="#1a1a9e" stroke-width="1.3" fill="#fff" stroke-linejoin="miter"/>
<ellipse cx="151.30" cy="194.80" rx="3.7" ry="3.7" fill="#fff" stroke="#5a5af0" stroke-width="0.7"/>
<text x="158.8" y="196.0" font-family='"Liberation Serif", serif' font-size="3.6" font-weight="bold" fill="#1a1a1a" text-anchor="start" stroke="#1a1a1a" stroke-width="0.12">Mutated Gene</text>
<rect x="186.8" y="192.2" width="6.4" height="6.4" fill="#fff" stroke="#ee6a70" stroke-width="0.7"/>
<text x="196.3" y="196.6" font-family='"Liberation Serif", serif' font-size="3.6" font-weight="bold" fill="#1a1a1a" text-anchor="start" stroke="#1a1a1a" stroke-width="0.12">Other Gene</text>
<polygon points="227.00,191.53 230.70,198.93 223.30,198.93" fill="#fff" stroke="#5f9f5f" stroke-width="0.55"/>
<text x="233.8" y="194.9" font-family='"Liberation Serif", serif' font-size="3.6" font-weight="bold" fill="#1a1a1a" text-anchor="start" stroke="#1a1a1a" stroke-width="0.12">Deregulated</text>
<text x="233.8" y="199.5" font-family='"Liberation Serif", serif' font-size="3.6" font-weight="bold" fill="#1a1a1a" text-anchor="start" stroke="#1a1a1a" stroke-width="0.12">Gene</text>
<ellipse cx="261.30" cy="196.00" rx="3.7" ry="3.7" fill="#fff" stroke="#5a5af0" stroke-width="0.7"/>
<path d="M259.01 193.71 L263.59 198.29 M263.59 193.71 L259.01 198.29" stroke="#3a3ae8" stroke-width="0.85" fill="none"/>
<text x="268" y="195.0" font-family='"Liberation Serif", serif' font-size="3.6" font-weight="bold" fill="#1a1a1a" text-anchor="start" stroke="#1a1a1a" stroke-width="0.12">Passenger Mutated</text>
<text x="268" y="199.6" font-family='"Liberation Serif", serif' font-size="3.6" font-weight="bold" fill="#1a1a1a" text-anchor="start" stroke="#1a1a1a" stroke-width="0.12">Gene</text>
<polygon points="304.30,191.42 308.10,199.02 300.50,199.02" fill="#0c6a18" stroke="#0c5a14" stroke-width="0.3"/>
<text x="312" y="194.9" font-family='"Liberation Serif", serif' font-size="3.6" font-weight="bold" fill="#1a1a1a" text-anchor="start" stroke="#1a1a1a" stroke-width="0.12">Phenotype</text>
<text x="312" y="199.3" font-family='"Liberation Serif", serif' font-size="3.6" font-weight="bold" fill="#1a1a1a" text-anchor="start" stroke="#1a1a1a" stroke-width="0.12">Gene</text>
<circle cx="338.8" cy="194.8" r="4.2" fill="#b4b4f0" stroke="#8a8ae6" stroke-width="0.6"/>
<text x="345.8" y="194.6" font-family='"Liberation Serif", serif' font-size="3.6" font-weight="bold" fill="#1a1a1a" text-anchor="start" stroke="#1a1a1a" stroke-width="0.12">High Impact</text>
<text x="345.8" y="199.0" font-family='"Liberation Serif", serif' font-size="3.6" font-weight="bold" fill="#1a1a1a" text-anchor="start" stroke="#1a1a1a" stroke-width="0.12">Module</text>
<circle cx="375.5" cy="194.8" r="4.2" fill="#f4b4b4" stroke="#e88a8a" stroke-width="0.6"/>
<text x="383" y="194.6" font-family='"Liberation Serif", serif' font-size="3.6" font-weight="bold" fill="#1a1a1a" text-anchor="start" stroke="#1a1a1a" stroke-width="0.12">Low Impact</text>
<text x="383" y="199.0" font-family='"Liberation Serif", serif' font-size="3.6" font-weight="bold" fill="#1a1a1a" text-anchor="start" stroke="#1a1a1a" stroke-width="0.12">Module</text>
<text x="497" y="18.9" font-family='"Liberation Sans", sans-serif' font-size="13.4" font-weight="bold" fill="#0a0ae6" text-anchor="start" >Output</text>
<text x="498.4" y="46.1" font-family='"Liberation Sans", sans-serif' font-size="10.0" font-weight="bold" fill="#1f6fc4" text-anchor="start" >Patient P1</text>
<rect x="457.5" y="47.7" width="132.7" height="65.3" fill="#d2d9ea"/>
<rect x="457.5" y="47.7" width="132.7" height="10.6" fill="#4f7fbd"/>
<rect x="490.6" y="47.7" width="0.8" height="65.3" fill="#fff" opacity="0.55"/>
<rect x="524.2" y="47.7" width="0.8" height="65.3" fill="#fff" opacity="0.55"/>
<rect x="557.1" y="47.7" width="0.8" height="65.3" fill="#fff" opacity="0.55"/>
<rect x="457.5" y="58.300000000000004" width="132.7" height="0.9" fill="#fff" opacity="0.8"/>
<text x="474.6" y="55.0" font-family='"Liberation Sans", sans-serif' font-size="5.6" font-weight="bold" fill="#fff" text-anchor="middle" textLength="8.5" lengthAdjust="spacingAndGlyphs">Rank</text>
<text x="507.3" y="55.0" font-family='"Liberation Sans", sans-serif' font-size="5.6" font-weight="bold" fill="#fff" text-anchor="middle" textLength="8.8" lengthAdjust="spacingAndGlyphs">Gene</text>
<text x="540.5" y="55.0" font-family='"Liberation Sans", sans-serif' font-size="5.6" font-weight="bold" fill="#fff" text-anchor="middle" textLength="12.2" lengthAdjust="spacingAndGlyphs">Impact</text>
<text x="573.6" y="55.0" font-family='"Liberation Sans", sans-serif' font-size="5.6" font-weight="bold" fill="#fff" text-anchor="middle" textLength="19.5" lengthAdjust="spacingAndGlyphs">Annotation</text>
<text x="474.6" y="67.1" font-family='"Liberation Sans", sans-serif' font-size="5.7" font-weight="normal" fill="#1c1c1c" text-anchor="middle" textLength="1.8" lengthAdjust="spacingAndGlyphs">1</text>
<text x="507.3" y="67.1" font-family='"Liberation Sans", sans-serif' font-size="5.7" font-weight="normal" fill="#1c1c1c" text-anchor="middle" textLength="8.8" lengthAdjust="spacingAndGlyphs">BCL2</text>
<text x="540.5" y="67.1" font-family='"Liberation Sans", sans-serif' font-size="5.7" font-weight="normal" fill="#1c1c1c" text-anchor="middle" textLength="7.2" lengthAdjust="spacingAndGlyphs">120</text>
<text x="573.6" y="67.1" font-family='"Liberation Sans", sans-serif' font-size="5.7" font-weight="normal" fill="#1c1c1c" text-anchor="middle" textLength="17.5" lengthAdjust="spacingAndGlyphs">Cell Death</text>
<text x="474.6" y="75.7" font-family='"Liberation Sans", sans-serif' font-size="5.7" font-weight="normal" fill="#1c1c1c" text-anchor="middle" textLength="1.8" lengthAdjust="spacingAndGlyphs">2</text>
<text x="507.3" y="75.7" font-family='"Liberation Sans", sans-serif' font-size="5.7" font-weight="normal" fill="#1c1c1c" text-anchor="middle" textLength="11.5" lengthAdjust="spacingAndGlyphs">CCND1</text>
<text x="540.5" y="75.7" font-family='"Liberation Sans", sans-serif' font-size="5.7" font-weight="normal" fill="#1c1c1c" text-anchor="middle" textLength="7.2" lengthAdjust="spacingAndGlyphs">110</text>
<text x="573.6" y="75.7" font-family='"Liberation Sans", sans-serif' font-size="5.7" font-weight="normal" fill="#1c1c1c" text-anchor="middle" textLength="17.5" lengthAdjust="spacingAndGlyphs">Cell Cycle</text>
<text x="474.6" y="84.1" font-family='"Liberation Sans", sans-serif' font-size="5.7" font-weight="normal" fill="#1c1c1c" text-anchor="middle" textLength="1.8" lengthAdjust="spacingAndGlyphs">3</text>
<text x="507.3" y="84.1" font-family='"Liberation Sans", sans-serif' font-size="5.7" font-weight="normal" fill="#1c1c1c" text-anchor="middle" textLength="8.8" lengthAdjust="spacingAndGlyphs">CDH1</text>
<text x="540.5" y="84.1" font-family='"Liberation Sans", sans-serif' font-size="5.7" font-weight="normal" fill="#1c1c1c" text-anchor="middle" textLength="4.6" lengthAdjust="spacingAndGlyphs">70</text>
<text x="573.6" y="84.1" font-family='"Liberation Sans", sans-serif' font-size="5.7" font-weight="normal" fill="#1c1c1c" text-anchor="middle" textLength="23.5" lengthAdjust="spacingAndGlyphs">Cell Motility</text>
<circle cx="474.6" cy="93.0" r="0.45" fill="#555"/>
<circle cx="507.3" cy="93.0" r="0.45" fill="#555"/>
<circle cx="540.5" cy="93.0" r="0.45" fill="#555"/>
<circle cx="573.6" cy="93.0" r="0.45" fill="#555"/>
<circle cx="474.6" cy="101.80000000000001" r="0.45" fill="#555"/>
<circle cx="507.3" cy="101.80000000000001" r="0.45" fill="#555"/>
<circle cx="540.5" cy="101.80000000000001" r="0.45" fill="#555"/>
<circle cx="573.6" cy="101.80000000000001" r="0.45" fill="#555"/>
<circle cx="474.6" cy="110.6" r="0.45" fill="#555"/>
<circle cx="507.3" cy="110.6" r="0.45" fill="#555"/>
<circle cx="540.5" cy="110.6" r="0.45" fill="#555"/>
<circle cx="573.6" cy="110.6" r="0.45" fill="#555"/>
<text x="501" y="130.3" font-family='"Liberation Sans", sans-serif' font-size="10.0" font-weight="bold" fill="#ee1515" text-anchor="start" >Patient P2</text>
<rect x="457.5" y="133.4" width="132.7" height="66.3" fill="#ead3d3"/>
<rect x="457.5" y="133.4" width="132.7" height="10.6" fill="#bf4a4a"/>
<rect x="490.6" y="133.4" width="0.8" height="66.3" fill="#fff" opacity="0.55"/>
<rect x="524.2" y="133.4" width="0.8" height="66.3" fill="#fff" opacity="0.55"/>
<rect x="557.1" y="133.4" width="0.8" height="66.3" fill="#fff" opacity="0.55"/>
<rect x="457.5" y="144.0" width="132.7" height="0.9" fill="#fff" opacity="0.8"/>
<text x="474.6" y="140.70000000000002" font-family='"Liberation Sans", sans-serif' font-size="5.6" font-weight="bold" fill="#fff" text-anchor="middle" textLength="8.5" lengthAdjust="spacingAndGlyphs">Rank</text>
<text x="507.3" y="140.70000000000002" font-family='"Liberation Sans", sans-serif' font-size="5.6" font-weight="bold" fill="#fff" text-anchor="middle" textLength="8.8" lengthAdjust="spacingAndGlyphs">Gene</text>
<text x="540.5" y="140.70000000000002" font-family='"Liberation Sans", sans-serif' font-size="5.6" font-weight="bold" fill="#fff" text-anchor="middle" textLength="12.2" lengthAdjust="spacingAndGlyphs">Impact</text>
<text x="573.6" y="140.70000000000002" font-family='"Liberation Sans", sans-serif' font-size="5.6" font-weight="bold" fill="#fff" text-anchor="middle" textLength="19.5" lengthAdjust="spacingAndGlyphs">Annotation</text>
<text x="474.6" y="152.8" font-family='"Liberation Sans", sans-serif' font-size="5.7" font-weight="normal" fill="#1c1c1c" text-anchor="middle" textLength="1.8" lengthAdjust="spacingAndGlyphs">1</text>
<text x="507.3" y="152.8" font-family='"Liberation Sans", sans-serif' font-size="5.7" font-weight="normal" fill="#1c1c1c" text-anchor="middle" textLength="11.5" lengthAdjust="spacingAndGlyphs">CCNE1</text>
<text x="540.5" y="152.8" font-family='"Liberation Sans", sans-serif' font-size="5.7" font-weight="normal" fill="#1c1c1c" text-anchor="middle" textLength="7.2" lengthAdjust="spacingAndGlyphs">150</text>
<text x="573.6" y="152.8" font-family='"Liberation Sans", sans-serif' font-size="5.7" font-weight="normal" fill="#1c1c1c" text-anchor="middle" textLength="17.5" lengthAdjust="spacingAndGlyphs">Cell Cycle</text>
<text x="474.6" y="161.4" font-family='"Liberation Sans", sans-serif' font-size="5.7" font-weight="normal" fill="#1c1c1c" text-anchor="middle" textLength="1.8" lengthAdjust="spacingAndGlyphs">2</text>
<text x="507.3" y="161.4" font-family='"Liberation Sans", sans-serif' font-size="5.7" font-weight="normal" fill="#1c1c1c" text-anchor="middle" textLength="11.5" lengthAdjust="spacingAndGlyphs">CCND1</text>
<text x="540.5" y="161.4" font-family='"Liberation Sans", sans-serif' font-size="5.7" font-weight="normal" fill="#1c1c1c" text-anchor="middle" textLength="4.6" lengthAdjust="spacingAndGlyphs">70</text>
<text x="573.6" y="161.4" font-family='"Liberation Sans", sans-serif' font-size="5.7" font-weight="normal" fill="#1c1c1c" text-anchor="middle" textLength="17.5" lengthAdjust="spacingAndGlyphs">Cell Cycle</text>
<text x="474.6" y="169.8" font-family='"Liberation Sans", sans-serif' font-size="5.7" font-weight="normal" fill="#1c1c1c" text-anchor="middle" textLength="1.8" lengthAdjust="spacingAndGlyphs">3</text>
<text x="507.3" y="169.8" font-family='"Liberation Sans", sans-serif' font-size="5.7" font-weight="normal" fill="#1c1c1c" text-anchor="middle" textLength="8.8" lengthAdjust="spacingAndGlyphs">CDH2</text>
<text x="540.5" y="169.8" font-family='"Liberation Sans", sans-serif' font-size="5.7" font-weight="normal" fill="#1c1c1c" text-anchor="middle" textLength="4.6" lengthAdjust="spacingAndGlyphs">50</text>
<text x="573.6" y="169.8" font-family='"Liberation Sans", sans-serif' font-size="5.7" font-weight="normal" fill="#1c1c1c" text-anchor="middle" textLength="23.5" lengthAdjust="spacingAndGlyphs">Cell Motility</text>
<circle cx="474.6" cy="178.7" r="0.45" fill="#555"/>
<circle cx="507.3" cy="178.7" r="0.45" fill="#555"/>
<circle cx="540.5" cy="178.7" r="0.45" fill="#555"/>
<circle cx="573.6" cy="178.7" r="0.45" fill="#555"/>
<circle cx="474.6" cy="187.5" r="0.45" fill="#555"/>
<circle cx="507.3" cy="187.5" r="0.45" fill="#555"/>
<circle cx="540.5" cy="187.5" r="0.45" fill="#555"/>
<circle cx="573.6" cy="187.5" r="0.45" fill="#555"/>
<circle cx="474.6" cy="196.3" r="0.45" fill="#555"/>
<circle cx="507.3" cy="196.3" r="0.45" fill="#555"/>
<circle cx="540.5" cy="196.3" r="0.45" fill="#555"/>
<circle cx="573.6" cy="196.3" r="0.45" fill="#555"/>
<text x="3.3" y="244.4" font-family='"Liberation Sans", sans-serif' font-size="14.6" font-weight="bold" fill="#111" text-anchor="start" >b)</text>
<text x="95.6" y="254.6" font-family='"Liberation Sans", sans-serif' font-size="11.85" font-weight="bold" fill="#222" text-anchor="start" >Parameter Setting</text>
<line x1="70.8" y1="275" x2="128.7" y2="280.1" stroke="#9a9a9a" stroke-width="0.6" fill="none"/>
<line x1="128.7" y1="280.1" x2="180" y2="312.5" stroke="#9a9a9a" stroke-width="0.6" fill="none"/>
<line x1="180" y1="312.5" x2="119.7" y2="311.2" stroke="#9a9a9a" stroke-width="0.6" fill="none"/>
<line x1="119.7" y1="311.2" x2="70.8" y2="275" stroke="#9a9a9a" stroke-width="0.6" fill="none"/>
<line x1="70.8" y1="275" x2="52.7" y2="348.4" stroke="#9a9a9a" stroke-width="0.6" fill="none"/>
<line x1="128.7" y1="280.1" x2="110.6" y2="353" stroke="#9a9a9a" stroke-width="0.6" fill="none"/>
<line x1="180" y1="312.5" x2="153.2" y2="380.6" stroke="#9a9a9a" stroke-width="0.6" fill="none"/>
<line x1="52.7" y1="348.4" x2="96.6" y2="392.4" stroke="#9a9a9a" stroke-width="0.6" fill="none"/>
<line x1="96.6" y1="392.4" x2="153.2" y2="380.6" stroke="#9a9a9a" stroke-width="0.6" fill="none"/>
<defs><linearGradient id="surf" gradientUnits="userSpaceOnUse" x1="138.5" y1="298.5" x2="126" y2="391"><stop offset="0" stop-color="#d80800"/><stop offset="0.09" stop-color="#ee2400"/><stop offset="0.15" stop-color="#f87c00"/><stop offset="0.22" stop-color="#f6dc00"/><stop offset="0.33" stop-color="#b0e400"/><stop offset="0.47" stop-color="#34cc00"/><stop offset="0.61" stop-color="#08a838"/><stop offset="0.73" stop-color="#088c90"/><stop offset="0.84" stop-color="#0a4cc4"/><stop offset="0.93" stop-color="#0a18c0"/><stop offset="1" stop-color="#080884"/></linearGradient><linearGradient id="sideshade" gradientUnits="userSpaceOnUse" x1="130" y1="0" x2="152" y2="0"><stop offset="0" stop-color="#000" stop-opacity="0"/><stop offset="0.7" stop-color="#000" stop-opacity="0.07"/><stop offset="1" stop-color="#000" stop-opacity="0.5"/></linearGradient><linearGradient id="ridge" gradientUnits="userSpaceOnUse" x1="100" y1="330" x2="114.7" y2="340.4"><stop offset="0" stop-color="#000" stop-opacity="0.35"/><stop offset="0.12" stop-color="#000" stop-opacity="0"/><stop offset="0.2" stop-color="#fff" stop-opacity="0.0"/><stop offset="0.45" stop-color="#ffffb0" stop-opacity="0.5"/><stop offset="0.8" stop-color="#fff" stop-opacity="0"/><stop offset="1" stop-color="#fff" stop-opacity="0"/></linearGradient><radialGradient id="hl" cx="0.5" cy="0.5" r="0.5"><stop offset="0" stop-color="#f4fffc" stop-opacity="0.9"/><stop offset="0.45" stop-color="#d8fff0" stop-opacity="0.4"/><stop offset="1" stop-color="#fff" stop-opacity="0"/></radialGradient><linearGradient id="flat" gradientUnits="userSpaceOnUse" x1="53" y1="348" x2="93" y2="356"><stop offset="0" stop-color="#070778"/><stop offset="0.62" stop-color="#080c88"/><stop offset="0.8" stop-color="#06304a" stop-opacity="0.85"/><stop offset="1" stop-color="#0a5a20" stop-opacity="0"/></linearGradient><clipPath id="surfclip"><path d="M52.7 347.9 L68.0 346.9 L82.3 345.5 L88.6 345.0 L93.1 342.4 L98.5 337.1 L103.9 331.7 L109.2 326.3 L114.6 320.9 L119.5 315.0 L127.4 307.9 L133.9 301.8 L136.2 300.3 L137.9 299.8 L139.8 300.1 L141.8 301.1 L145.3 305.8 L147.1 313.7 L147.9 326.8 L148.4 342.6 L149.2 358.4 L150.5 371.6 L151.6 379.0 L153.2 381.6 L96.3 392.8 L93.1 389.1 L89.5 381.0 L86.8 372.1 L84.1 364.0 L79.6 359.5 L73.3 358.6 L66.2 357.7 L59.0 353.2 Z"/></clipPath></defs>
<path d="M52.7 347.9 L68.0 346.9 L82.3 345.5 L88.6 345.0 L93.1 342.4 L98.5 337.1 L103.9 331.7 L109.2 326.3 L114.6 320.9 L119.5 315.0 L127.4 307.9 L133.9 301.8 L136.2 300.3 L137.9 299.8 L139.8 300.1 L141.8 301.1 L145.3 305.8 L147.1 313.7 L147.9 326.8 L148.4 342.6 L149.2 358.4 L150.5 371.6 L151.6 379.0 L153.2 381.6 L96.3 392.8 L93.1 389.1 L89.5 381.0 L86.8 372.1 L84.1 364.0 L79.6 359.5 L73.3 358.6 L66.2 357.7 L59.0 353.2 Z" fill="url(#surf)"/>
<g clip-path="url(#surfclip)">
<rect x="40" y="290" width="120" height="110" fill="url(#ridge)"/>
<rect x="125" y="290" width="30" height="100" fill="url(#sideshade)"/>
<path d="M52.7 347.9 L68.0 346.9 L82.3 345.5 L88.6 345.0 L93.1 342.4 L95.0 344.0 L93.0 352.0 L90.0 360.0 L88.0 368.0 L86.8 372.1 L84.1 364.0 L79.6 359.5 L73.3 358.6 L66.2 357.7 L59.0 353.2 Z" fill="url(#flat)"/>
<ellipse cx="0" cy="0" rx="3.6" ry="11" transform="translate(95.2,358.5) rotate(36)" fill="url(#hl)"/>
</g>
<line x1="119.7" y1="311.2" x2="96.6" y2="392.4" stroke="#555" stroke-width="0.5" opacity="0.8"/>
<text x="63.2" y="380.3" font-family='"Liberation Sans", sans-serif' font-size="13.3" font-weight="bold" fill="#111" text-anchor="start" >D</text>
<text x="113.4" y="351.2" font-family='"Liberation Sans", sans-serif' font-size="13.3" font-weight="bold" fill="#111" text-anchor="start" >L</text>
<text x="126.6" y="400.4" font-family='"Liberation Sans", sans-serif' font-size="13.3" font-weight="bold" fill="#111" text-anchor="start" >F</text>
<text x="183.4" y="388.5" font-family='"Liberation Sans", sans-serif' font-size="8.33" font-weight="bold" fill="#222" text-anchor="start" >Jenson-Shannon Divergence</text>
<defs><linearGradient id="cbar" x1="0" y1="0" x2="1" y2="0"><stop offset="0" stop-color="#0000f0"/><stop offset="0.12" stop-color="#0030e0"/><stop offset="0.25" stop-color="#00a060"/><stop offset="0.38" stop-color="#10d000"/><stop offset="0.52" stop-color="#90e800"/><stop offset="0.65" stop-color="#fff000"/><stop offset="0.78" stop-color="#ff9000"/><stop offset="0.9" stop-color="#ff2000"/><stop offset="1" stop-color="#f00000"/></linearGradient></defs>
<rect x="194.5" y="396.4" width="91.4" height="6.1" fill="url(#cbar)"/>
<text x="188.3" y="413.9" font-family='"Liberation Sans", sans-serif' font-size="8" font-weight="normal" fill="#222" text-anchor="start" >Low</text>
<text x="278.3" y="412.4" font-family='"Liberation Sans", sans-serif' font-size="8" font-weight="normal" fill="#222" text-anchor="start" >High</text>
<text x="303" y="243.9" font-family='"Liberation Sans", sans-serif' font-size="14.6" font-weight="bold" fill="#111" text-anchor="start" >c)</text>
<text x="402" y="254.6" font-family='"Liberation Sans", sans-serif' font-size="11.67" font-weight="bold" fill="#222" text-anchor="start" >Filtering Passengers</text>
<ellipse cx="357.8" cy="287.4" rx="27.5" ry="12.5" fill="none" stroke="#5b9bd5" stroke-width="0.8"/>
<text x="357.5" y="270.2" font-family='"Liberation Sans", sans-serif' font-size="6.2" font-weight="bold" fill="#222" text-anchor="middle" >S1</text>
<ellipse cx="428" cy="287.4" rx="27.5" ry="12.5" fill="none" stroke="#5b9bd5" stroke-width="0.8"/>
<text x="427.7" y="270.2" font-family='"Liberation Sans", sans-serif' font-size="6.2" font-weight="bold" fill="#222" text-anchor="middle" >S2</text>
<ellipse cx="498.4" cy="287.1" rx="27.5" ry="12.5" fill="none" stroke="#5b9bd5" stroke-width="0.8"/>
<text x="498.09999999999997" y="270.2" font-family='"Liberation Sans", sans-serif' font-size="6.2" font-weight="bold" fill="#222" text-anchor="middle" >S3</text>
<ellipse cx="570" cy="287.2" rx="27.5" ry="12.5" fill="none" stroke="#5b9bd5" stroke-width="0.8"/>
<text x="569.7" y="270.2" font-family='"Liberation Sans", sans-serif' font-size="6.2" font-weight="bold" fill="#222" text-anchor="middle" >S4</text>
<rect x="380.7" y="339" width="151.6" height="70.4" rx="9" ry="9" fill="none" stroke="#5b9bd5" stroke-width="0.9"/>
<line x1="357.7" y1="291.2" x2="434.6" y2="346.8" stroke="#5b9bd5" stroke-width="0.7" fill="none"/>
<line x1="415.2" y1="291" x2="436.4" y2="346.3" stroke="#5b9bd5" stroke-width="0.7" fill="none"/>
<line x1="415.6" y1="291" x2="459.5" y2="346.8" stroke="#5b9bd5" stroke-width="0.7" fill="none" stroke-dasharray="2 1.2"/>
<line x1="416" y1="291" x2="483" y2="347.5" stroke="#5b9bd5" stroke-width="0.7" fill="none" stroke-dasharray="2 1.2"/>
<line x1="441.5" y1="291" x2="482.6" y2="347.6" stroke="#5b9bd5" stroke-width="0.7" fill="none"/>
<line x1="485.2" y1="291" x2="441.6" y2="347" stroke="#5b9bd5" stroke-width="0.7" fill="none"/>
<line x1="485.4" y1="291" x2="464.4" y2="346.8" stroke="#5b9bd5" stroke-width="0.7" fill="none" stroke-dasharray="2 1.2"/>
<line x1="485.8" y1="291" x2="486.3" y2="346.3" stroke="#5b9bd5" stroke-width="0.7" fill="none" stroke-dasharray="2 1.2"/>
<line x1="511.5" y1="291" x2="491.6" y2="347" stroke="#5b9bd5" stroke-width="0.7" fill="none"/>
<line x1="584" y1="291" x2="516.4" y2="348.3" stroke="#5b9bd5" stroke-width="0.7" fill="none"/>
<polygon points="343.80,282.58 348.00,290.98 339.60,290.98" fill="#0c6a18" stroke="#0c5a14" stroke-width="0.3"/>
<polygon points="357.00,282.58 361.20,290.98 352.80,290.98" fill="#fff" stroke="#5f9f5f" stroke-width="0.6"/>
<polygon points="370.50,282.58 374.70,290.98 366.30,290.98" fill="#0c6a18" stroke="#0c5a14" stroke-width="0.3"/>
<polygon points="414.30,282.58 418.50,290.98 410.10,290.98" fill="#0c6a18" stroke="#0c5a14" stroke-width="0.3"/>
<polygon points="427.50,282.58 431.70,290.98 423.30,290.98" fill="#0c6a18" stroke="#0c5a14" stroke-width="0.3"/>
<polygon points="440.80,282.58 445.00,290.98 436.60,290.98" fill="#0c6a18" stroke="#0c5a14" stroke-width="0.3"/>
<polygon points="485.50,282.58 489.70,290.98 481.30,290.98" fill="#0c6a18" stroke="#0c5a14" stroke-width="0.3"/>
<polygon points="498.80,282.58 503.00,290.98 494.60,290.98" fill="#fff" stroke="#5f9f5f" stroke-width="0.6"/>
<polygon points="511.80,282.58 516.00,290.98 507.60,290.98" fill="#0c6a18" stroke="#0c5a14" stroke-width="0.3"/>
<polygon points="556.80,282.58 561.00,290.98 552.60,290.98" fill="#fff" stroke="#5f9f5f" stroke-width="0.6"/>
<polygon points="570.50,282.58 574.70,290.98 566.30,290.98" fill="#fff" stroke="#5f9f5f" stroke-width="0.6"/>
<polygon points="584.30,282.58 588.50,290.98 580.10,290.98" fill="#0c6a18" stroke="#0c5a14" stroke-width="0.3"/>
<ellipse cx="437.4" cy="351.3" rx="5.4" ry="4.9" fill="#fff" stroke="#f03038" stroke-width="0.75"/>
<ellipse cx="461.9" cy="351.3" rx="5.4" ry="4.9" fill="#fff" stroke="#f03038" stroke-width="0.75"/>
<ellipse cx="486.4" cy="351.3" rx="5.4" ry="4.9" fill="#fff" stroke="#f03038" stroke-width="0.75"/>
<ellipse cx="511.8" cy="351.3" rx="5.4" ry="4.9" fill="#fff" stroke="#f03038" stroke-width="0.75"/>
<path d="M458.79999999999995 347.1 L465.0 355.5 M465.0 347.1 L458.79999999999995 355.5" stroke="#f03038" stroke-width="0.9" fill="none"/>
<text x="405.2" y="349.3" font-family='"Liberation Sans", sans-serif' font-size="5.6" font-weight="bold" fill="#111" text-anchor="middle" >Potential</text>
<text x="405.2" y="356.9" font-family='"Liberation Sans", sans-serif' font-size="5.6" font-weight="bold" fill="#111" text-anchor="middle" >Drivers</text>
<text x="405.2" y="370.4" font-family='"Liberation Sans", sans-serif' font-size="5.6" font-weight="bold" fill="#111" text-anchor="middle" >Mutation</text>
<text x="405.2" y="378.1" font-family='"Liberation Sans", sans-serif' font-size="5.6" font-weight="bold" fill="#111" text-anchor="middle" >Frequency</text>
<text x="406.8" y="391.2" font-family='"Liberation Sans", sans-serif' font-size="5.6" font-weight="bold" fill="#111" text-anchor="middle" >Samples</text>
<text x="406.8" y="398.6" font-family='"Liberation Sans", sans-serif' font-size="5.6" font-weight="bold" fill="#111" text-anchor="middle" >with Mutation</text>
<text x="438.9" y="374.6" font-family='"Liberation Sans", sans-serif' font-size="5.4" font-weight="bold" fill="#2a2a2a" text-anchor="middle" >0.75</text>
<text x="461.9" y="374.6" font-family='"Liberation Sans", sans-serif' font-size="5.4" font-weight="bold" fill="#2a2a2a" text-anchor="middle" >0.50</text>
<text x="487.9" y="374.6" font-family='"Liberation Sans", sans-serif' font-size="5.4" font-weight="bold" fill="#2a2a2a" text-anchor="middle" >0.50</text>
<text x="511.5" y="374.6" font-family='"Liberation Sans", sans-serif' font-size="5.4" font-weight="bold" fill="#2a2a2a" text-anchor="middle" >0.25</text>
<text x="438" y="391.2" font-family='"Liberation Sans", sans-serif' font-size="5.4" font-weight="bold" fill="#2a2a2a" text-anchor="middle" >S1,</text>
<text x="439.5" y="398.9" font-family='"Liberation Sans", sans-serif' font-size="5.4" font-weight="bold" fill="#2a2a2a" text-anchor="middle" >S2,S3</text>
<text x="463.4" y="395.8" font-family='"Liberation Sans", sans-serif' font-size="5.4" font-weight="bold" fill="#2a2a2a" text-anchor="middle" >S2,S3</text>
<text x="488.8" y="395.8" font-family='"Liberation Sans", sans-serif' font-size="5.4" font-weight="bold" fill="#2a2a2a" text-anchor="middle" >S2,S3</text>
<text x="512.4" y="395.8" font-family='"Liberation Sans", sans-serif' font-size="5.4" font-weight="bold" fill="#2a2a2a" text-anchor="middle" >S4</text>
<rect x="537.3" y="363.7" width="60" height="40.4" fill="#fff" stroke="#1a1a1a" stroke-width="1.1"/>
<polygon points="548.40,370.98 552.60,379.38 544.20,379.38" fill="#0c6a18" stroke="#0c5a14" stroke-width="0.3"/>
<polygon points="548.40,388.38 552.60,396.78 544.20,396.78" fill="#fff" stroke="#5f9f5f" stroke-width="0.6"/>
<text x="557.5" y="373.4" font-family='"Liberation Serif", serif' font-size="5.7" font-weight="bold" fill="#1a1a1a" text-anchor="start" stroke="#1a1a1a" stroke-width="0.12">Phenotype</text>
<text x="557.5" y="381.2" font-family='"Liberation Serif", serif' font-size="5.7" font-weight="bold" fill="#1a1a1a" text-anchor="start" stroke="#1a1a1a" stroke-width="0.12">Gene</text>
<text x="557.5" y="390.7" font-family='"Liberation Serif", serif' font-size="5.7" font-weight="bold" fill="#1a1a1a" text-anchor="start" stroke="#1a1a1a" stroke-width="0.12">Deregulated</text>
<text x="557.5" y="398.0" font-family='"Liberation Serif", serif' font-size="5.7" font-weight="bold" fill="#1a1a1a" text-anchor="start" stroke="#1a1a1a" stroke-width="0.12">Gene</text>
</g>
</svg>
</body></html>
